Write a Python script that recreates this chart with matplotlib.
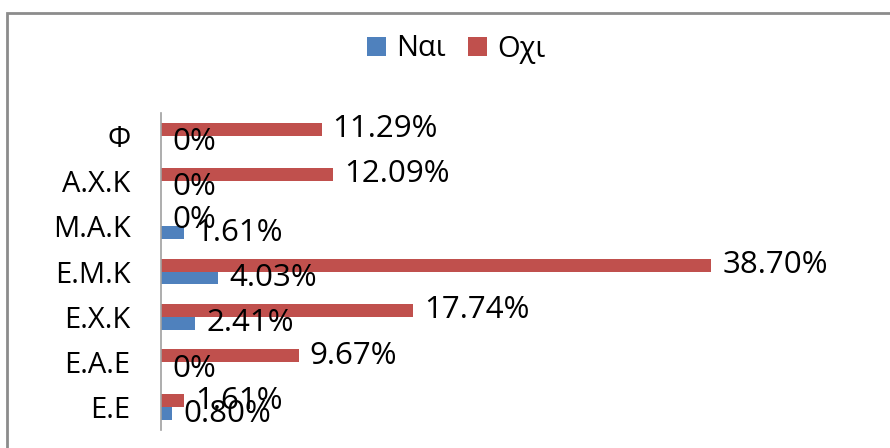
import numpy as np
import matplotlib
matplotlib.use("Agg")
import matplotlib.pyplot as plt
from matplotlib.patches import Rectangle

plt.rcParams['font.family'] = ['Open Sans', 'DejaVu Sans']

categories = ['Ε.Ε', 'Ε.Α.Ε', 'Ε.Χ.Κ', 'Ε.Μ.Κ', 'Μ.Α.Κ', 'Α.Χ.Κ', 'Φ']
nai = [0.80, 0, 2.41, 4.03, 1.61, 0, 0]
oxi = [1.61, 9.67, 17.74, 38.70, 0, 12.09, 11.29]
nai_labels = ['0.80%', '0%', '2.41%', '4.03%', '1.61%', '0%', '0%']
oxi_labels = ['1.61%', '9.67%', '17.74%', '38.70%', '0%', '12.09%', '11.29%']

blue = '#4F81BD'
red = '#C0504D'

fig = plt.figure(figsize=(8.9, 4.48), dpi=100)
# chart border (only top and left visible in the reference)
fig.patches.append(Rectangle((7 / 890, -0.1), 1.2, 1 - 13 / 448 + 0.1,
                             transform=fig.transFigure, fill=False,
                             edgecolor='#8c8c8c', linewidth=2))

ax = fig.add_axes([161 / 890, 18 / 448, 640 / 890, 317 / 448])
y = np.arange(len(categories))
h = 0.287
b1 = ax.barh(y - h / 2, nai, height=h, color=blue, label='Ναι')
b2 = ax.barh(y + h / 2, oxi, height=h, color=red, label='Οχι')

for i in range(len(categories)):
    ax.annotate(nai_labels[i], (nai[i], y[i] - h / 2), xytext=(11, 0),
                textcoords='offset pixels', va='center', ha='left', fontsize=22.5)
    ax.annotate(oxi_labels[i], (oxi[i], y[i] + h / 2), xytext=(11, 0),
                textcoords='offset pixels', va='center', ha='left', fontsize=22.5)

ax.set_xlim(0, 45)
ax.set_ylim(-0.5, 6.5)
ax.set_yticks(y)
ax.set_yticklabels(categories, fontsize=21)
ax.tick_params(axis='y', length=0, pad=22)
ax.set_xticks([])
for s in ['top', 'right', 'bottom']:
    ax.spines[s].set_visible(False)
ax.spines['left'].set_color('#a0a0a0')
ax.spines['left'].set_linewidth(1.2)

fig.legend(handles=[b1, b2], loc='center', bbox_to_anchor=(456 / 890, 1 - 49 / 448),
           ncol=2, frameon=False, fontsize=21, handlelength=0.65, handleheight=0.65,
           handletextpad=0.35, columnspacing=0.75)

fig.savefig('out.png', dpi=100)
